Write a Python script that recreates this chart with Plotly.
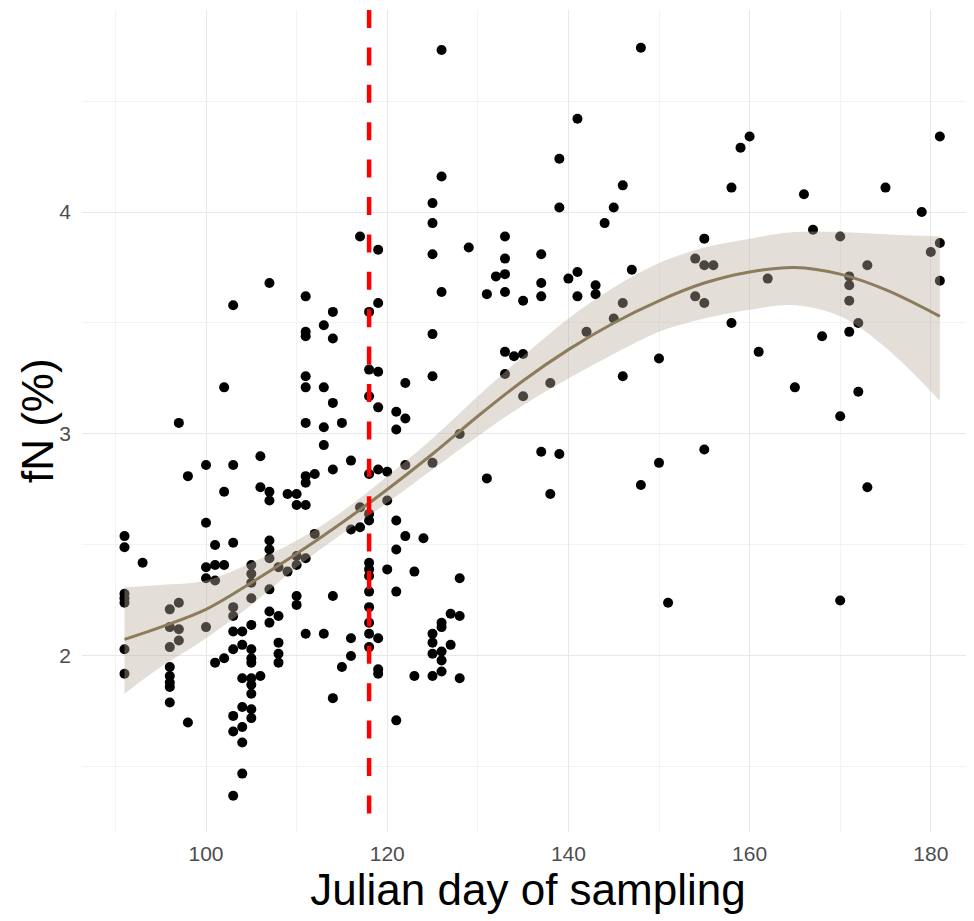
import plotly.graph_objects as go

# ---- data ----
sampling_day = [
    91, 91, 91, 91, 91, 91, 91,
    93,
    96, 96, 96, 96, 96, 96, 96, 96,
    97, 97, 97, 97,
    98, 98,
    100, 100, 100, 100, 100,
    101, 101, 101, 101,
    102, 102, 102, 102,
    103, 103, 103, 103, 103, 103, 103, 103, 103, 103,
    104, 104, 104, 104, 104, 104, 104,
    105, 105, 105, 105, 105, 105, 105, 105, 105, 105, 105, 105, 105,
    106, 106, 106,
    107, 107, 107, 107, 107, 107, 107, 107, 107,
    108, 108, 108, 108, 108,
    109, 109,
    110, 110, 110, 110, 110, 110,
    111, 111, 111, 111, 111, 111, 111, 111, 111, 111, 111,
    112, 112,
    113, 113, 113, 113, 113,
    114, 114, 114, 114, 114, 114,
    115, 115,
    116, 116, 116, 116,
    117, 117, 117,
    118, 118, 118, 118, 118, 118, 118, 118, 118, 118, 118, 118, 118, 118,
    119, 119, 119, 119, 119, 119, 119, 119,
    120, 120, 120,
    121, 121, 121, 121, 121, 121,
    122, 122, 122, 122,
    123, 123,
    124,
    125, 125, 125, 125, 125, 125, 125, 125, 125, 125,
    126, 126, 126, 126, 126, 126, 126, 126,
    127, 127,
    128, 128, 128, 128,
    129,
    131, 131,
    132,
    133, 133, 133, 133, 133, 133,
    134,
    135, 135, 135,
    137, 137, 137, 137,
    138, 138,
    139, 139, 139,
    140,
    141, 141, 141,
    142,
    143, 143,
    144,
    145, 145,
    146, 146, 146,
    147,
    148, 148,
    150, 150,
    151,
    154, 154,
    155, 155, 155, 155,
    156,
    158, 158,
    159,
    160,
    161,
    162,
    165,
    166,
    167,
    168,
    170, 170, 170,
    171, 171, 171, 171,
    172, 172,
    173, 173,
    175,
    179,
    180,
    181, 181, 181,
]

fn_percent = [
    2.54, 2.49, 2.28, 2.26, 2.24, 2.03, 1.92,
    2.42,
    2.21, 2.13, 2.04, 1.95, 1.91, 1.88, 1.86, 1.79,
    3.05, 2.24, 2.12, 2.07,
    2.81, 1.70,
    2.86, 2.60, 2.40, 2.35, 2.13,
    2.50, 2.41, 2.34, 1.97,
    3.21, 2.74, 2.41, 1.99,
    3.58, 2.86, 2.51, 2.22, 2.18, 2.11, 2.03, 1.73, 1.66, 1.37,
    2.11, 2.05, 1.90, 1.77, 1.68, 1.61, 1.47,
    2.41, 2.37, 2.33, 2.26, 2.14, 2.03, 1.99, 1.97, 1.90, 1.87, 1.83, 1.76, 1.72,
    2.90, 2.76, 1.91,
    3.68, 2.74, 2.70, 2.52, 2.48, 2.44, 2.30, 2.20, 2.15,
    2.40, 2.18, 2.06, 2.01, 1.97,
    2.73, 2.38,
    2.73, 2.68, 2.45, 2.41, 2.27, 2.23,
    3.62, 3.46, 3.44, 3.26, 3.21, 3.05, 2.81, 2.78, 2.68, 2.44, 2.10,
    2.82, 2.55,
    3.49, 3.21, 3.03, 2.95, 2.10,
    3.55, 3.43, 3.14, 2.84, 2.27, 1.81,
    3.05, 1.95,
    2.88, 2.57, 2.08, 2.00,
    3.89, 2.67, 2.58,
    3.55, 3.29, 3.17, 2.82, 2.64, 2.61, 2.42, 2.39, 2.36, 2.29, 2.22, 2.15, 2.10, 2.04,
    3.83, 3.59, 3.28, 3.12, 2.84, 2.08, 1.94, 1.92,
    2.83, 2.70, 2.39,
    3.10, 3.02, 2.61, 2.48, 2.29, 1.71,
    3.23, 3.07, 2.86, 2.54,
    2.38, 1.91,
    2.53,
    4.04, 3.95, 3.81, 3.45, 3.26, 2.87, 2.10, 2.06, 2.01, 1.91,
    4.73, 4.16, 3.64, 2.15, 2.13, 2.02, 1.98, 1.93,
    2.19, 2.05,
    3.00, 2.35, 2.18, 1.90,
    3.84,
    3.63, 2.80,
    3.71,
    3.89, 3.79, 3.72, 3.64, 3.37, 3.27,
    3.35,
    3.60, 3.36, 3.17,
    3.81, 3.68, 3.62, 2.92,
    3.23, 2.73,
    4.24, 4.02, 2.91,
    3.70,
    4.42, 3.73, 3.62,
    3.46,
    3.67, 3.63,
    3.95,
    4.02, 3.52,
    4.12, 3.59, 3.26,
    3.74,
    4.74, 2.77,
    3.34, 2.87,
    2.24,
    3.79, 3.62,
    3.88, 3.76, 3.59, 2.93,
    3.76,
    4.11, 3.50,
    4.29,
    4.34,
    3.37,
    3.70,
    3.21,
    4.08,
    3.92,
    3.44,
    3.89, 3.08, 2.25,
    3.71, 3.67, 3.60, 3.46,
    3.50, 3.19,
    3.76, 2.76,
    4.11,
    4.00,
    3.82,
    4.34, 3.86, 3.69,
]

# smoothed trend and its confidence band
smooth_day = [91, 95, 100, 105, 110, 115, 120, 125, 130, 135, 140,
              145, 150, 155, 160, 165, 170, 175, 181]
smooth_fit = [2.075, 2.13, 2.21, 2.33, 2.46, 2.60, 2.75, 2.91, 3.08, 3.24, 3.38,
              3.50, 3.60, 3.68, 3.73, 3.75, 3.72, 3.65, 3.53]
smooth_upper = [2.31, 2.32, 2.34, 2.42, 2.52, 2.65, 2.81, 2.98, 3.17, 3.35, 3.52,
                3.66, 3.77, 3.84, 3.88, 3.91, 3.91, 3.90, 3.89]
smooth_lower = [1.83, 1.95, 2.08, 2.23, 2.40, 2.55, 2.69, 2.84, 2.99, 3.13, 3.25,
                3.36, 3.46, 3.52, 3.56, 3.58, 3.53, 3.39, 3.15]

cutoff_day = 118

x_ticks = [100, 120, 140, 160, 180]
y_ticks = [2, 3, 4]
x_title = "Julian day of sampling"
y_title = "fN (%)"

FONT = "Liberation Sans, Arial, sans-serif"

fig = go.Figure()

fig.add_trace(go.Scatter(
    x=sampling_day, y=fn_percent, mode="markers",
    marker=dict(color="black", size=10, line=dict(width=0)),
    showlegend=False, hoverinfo="x+y"))

fig.add_trace(go.Scatter(
    x=smooth_day, y=smooth_lower, mode="lines",
    line=dict(width=0, shape="spline"), showlegend=False, hoverinfo="skip"))
fig.add_trace(go.Scatter(
    x=smooth_day, y=smooth_upper, mode="lines",
    line=dict(width=0, shape="spline"), fill="tonexty",
    fillcolor="rgba(184,176,158,0.40)", showlegend=False, hoverinfo="skip"))
fig.add_trace(go.Scatter(
    x=smooth_day, y=smooth_fit, mode="lines",
    line=dict(color="#8c7c5c", width=3, shape="spline"),
    showlegend=False, hoverinfo="skip"))

fig.add_shape(type="line", xref="x", yref="paper",
              x0=cutoff_day, x1=cutoff_day, y0=1, y1=0,
              line=dict(color="#ff0000", width=4.5, dash="18px,19.4px"),
              layer="above")

# y-axis title placed as a rotated annotation for exact positioning
fig.add_annotation(text=y_title, xref="paper", yref="paper",
                   x=-0.0504, y=0.5, xanchor="center", yanchor="middle",
                   textangle=-90, showarrow=False,
                   font=dict(size=44, color="black", family=FONT))

fig.update_layout(
    width=966, height=913,
    margin=dict(l=74, r=0, t=2, b=89),
    paper_bgcolor="white", plot_bgcolor="white",
    font=dict(family=FONT, color="#4d4d4d"),
    xaxis=dict(
        range=[86.31, 184.77], tickvals=x_ticks, ticktext=[str(v) for v in x_ticks],
        showgrid=True, gridcolor="#e8e8e8", gridwidth=1.3,
        minor=dict(dtick=10, tick0=90, showgrid=True, gridcolor="#f3f3f3", gridwidth=1),
        zeroline=False, showline=False, ticks="",
        tickfont=dict(size=21, color="#4d4d4d", family=FONT),
        ticklabelstandoff=7,
        title=dict(text=x_title, font=dict(size=44, color="black", family=FONT), standoff=10),
        automargin=False),
    yaxis=dict(
        range=[1.207, 4.91], tickvals=y_ticks, ticktext=[str(v) for v in y_ticks],
        showgrid=True, gridcolor="#e8e8e8", gridwidth=1.3,
        minor=dict(dtick=0.5, tick0=1.5, showgrid=True, gridcolor="#f3f3f3", gridwidth=1),
        zeroline=False, showline=False, ticks="",
        tickfont=dict(size=21, color="#4d4d4d", family=FONT),
        ticklabelstandoff=10,
        automargin=False),
)

fig.write_html("out.html")
